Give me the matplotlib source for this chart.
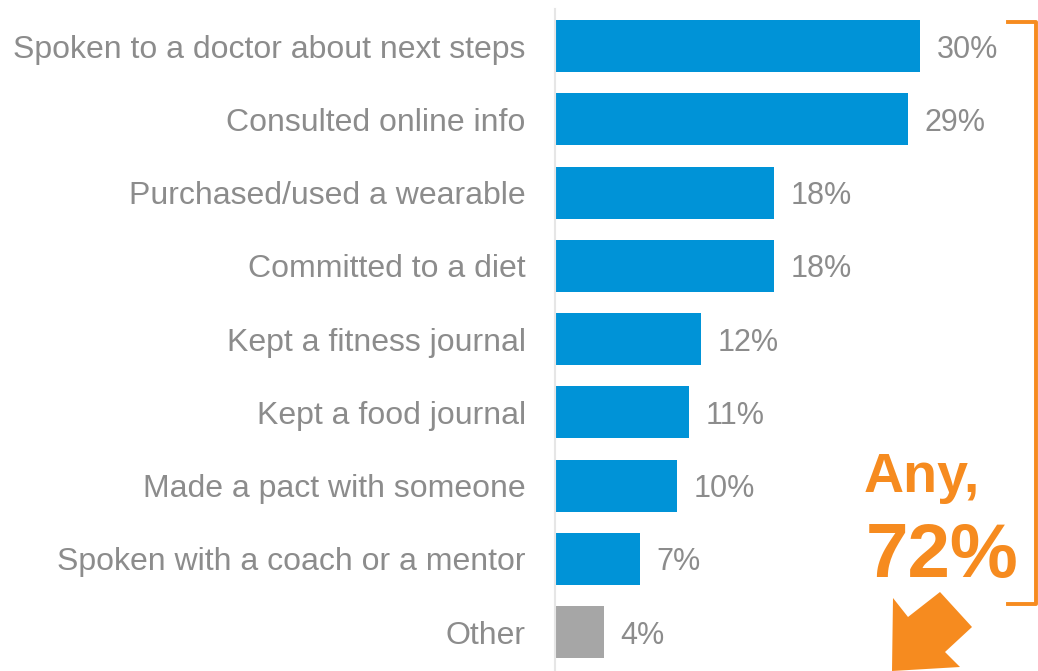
import numpy as np
import matplotlib.pyplot as plt
from matplotlib.patches import Polygon
from matplotlib.lines import Line2D

plt.rcParams['font.family'] = ['Liberation Sans', 'DejaVu Sans']

categories = ["Spoken to a doctor about next steps", "Consulted online info",
              "Purchased/used a wearable", "Committed to a diet",
              "Kept a fitness journal", "Kept a food journal",
              "Made a pact with someone", "Spoken with a coach or a mentor",
              "Other"]
values = [30, 29, 18, 18, 12, 11, 10, 7, 4]
any_total = 72

BLUE = "#0093d7"
GREY_BAR = "#a6a6a6"
TXT = "#8c8c8c"
ORANGE = "#f68b1f"

W, H = 1038, 671
fig = plt.figure(figsize=(W / 100, H / 100), dpi=100)
ax = fig.add_axes([555 / W, 0, 1 - 555 / W, 1 - 9 / H])

y = np.arange(len(categories))
colors = [GREY_BAR if c == "Other" else BLUE for c in categories]
ax.barh(y, values, height=0.71, color=colors, zorder=2)

ax.set_xlim(0, (W - 555) / 12.17)
ax.set_ylim(8.53, -0.505)

for yi, v in zip(y, values):
    ax.text(v + 1.35, yi, f"{v}%", va="center_baseline", ha="left",
            fontsize=22, color=TXT)

ax.set_yticks(y)
ax.set_yticklabels(categories, fontsize=23, color=TXT,
                   va="center_baseline")
ax.tick_params(axis="y", length=0, pad=21)
ax.set_xticks([])
for s in ["top", "right", "bottom"]:
    ax.spines[s].set_visible(False)
ax.spines["left"].set_color("#e6e6e6")
ax.spines["left"].set_linewidth(1.5)


def px(x, yy):
    return (x / W, 1 - yy / H)


# bracket round the blue bars
pts = [px(1008, 21.5), px(1035.5, 21.5), px(1035.5, 604), px(1008, 604)]
fig.add_artist(Line2D([p[0] for p in pts], [p[1] for p in pts],
                      transform=fig.transFigure, color=ORANGE, lw=2.8,
                      solid_joinstyle="round"))

fig.text(*px(922, 492), "Any,", ha="center", va="baseline",
         fontsize=40, fontweight="bold", color=ORANGE)
fig.text(*px(942, 577), f"{any_total}%", ha="center", va="baseline",
         fontsize=55, fontweight="bold", color=ORANGE)

arrow = [px(940, 592), px(972, 627), px(945, 652), px(960, 667),
         px(892, 671), px(893, 598), px(908, 617)]
fig.add_artist(Polygon(arrow, closed=True, transform=fig.transFigure,
                       facecolor=ORANGE, edgecolor="none"))

fig.savefig("out.png", dpi=100)
